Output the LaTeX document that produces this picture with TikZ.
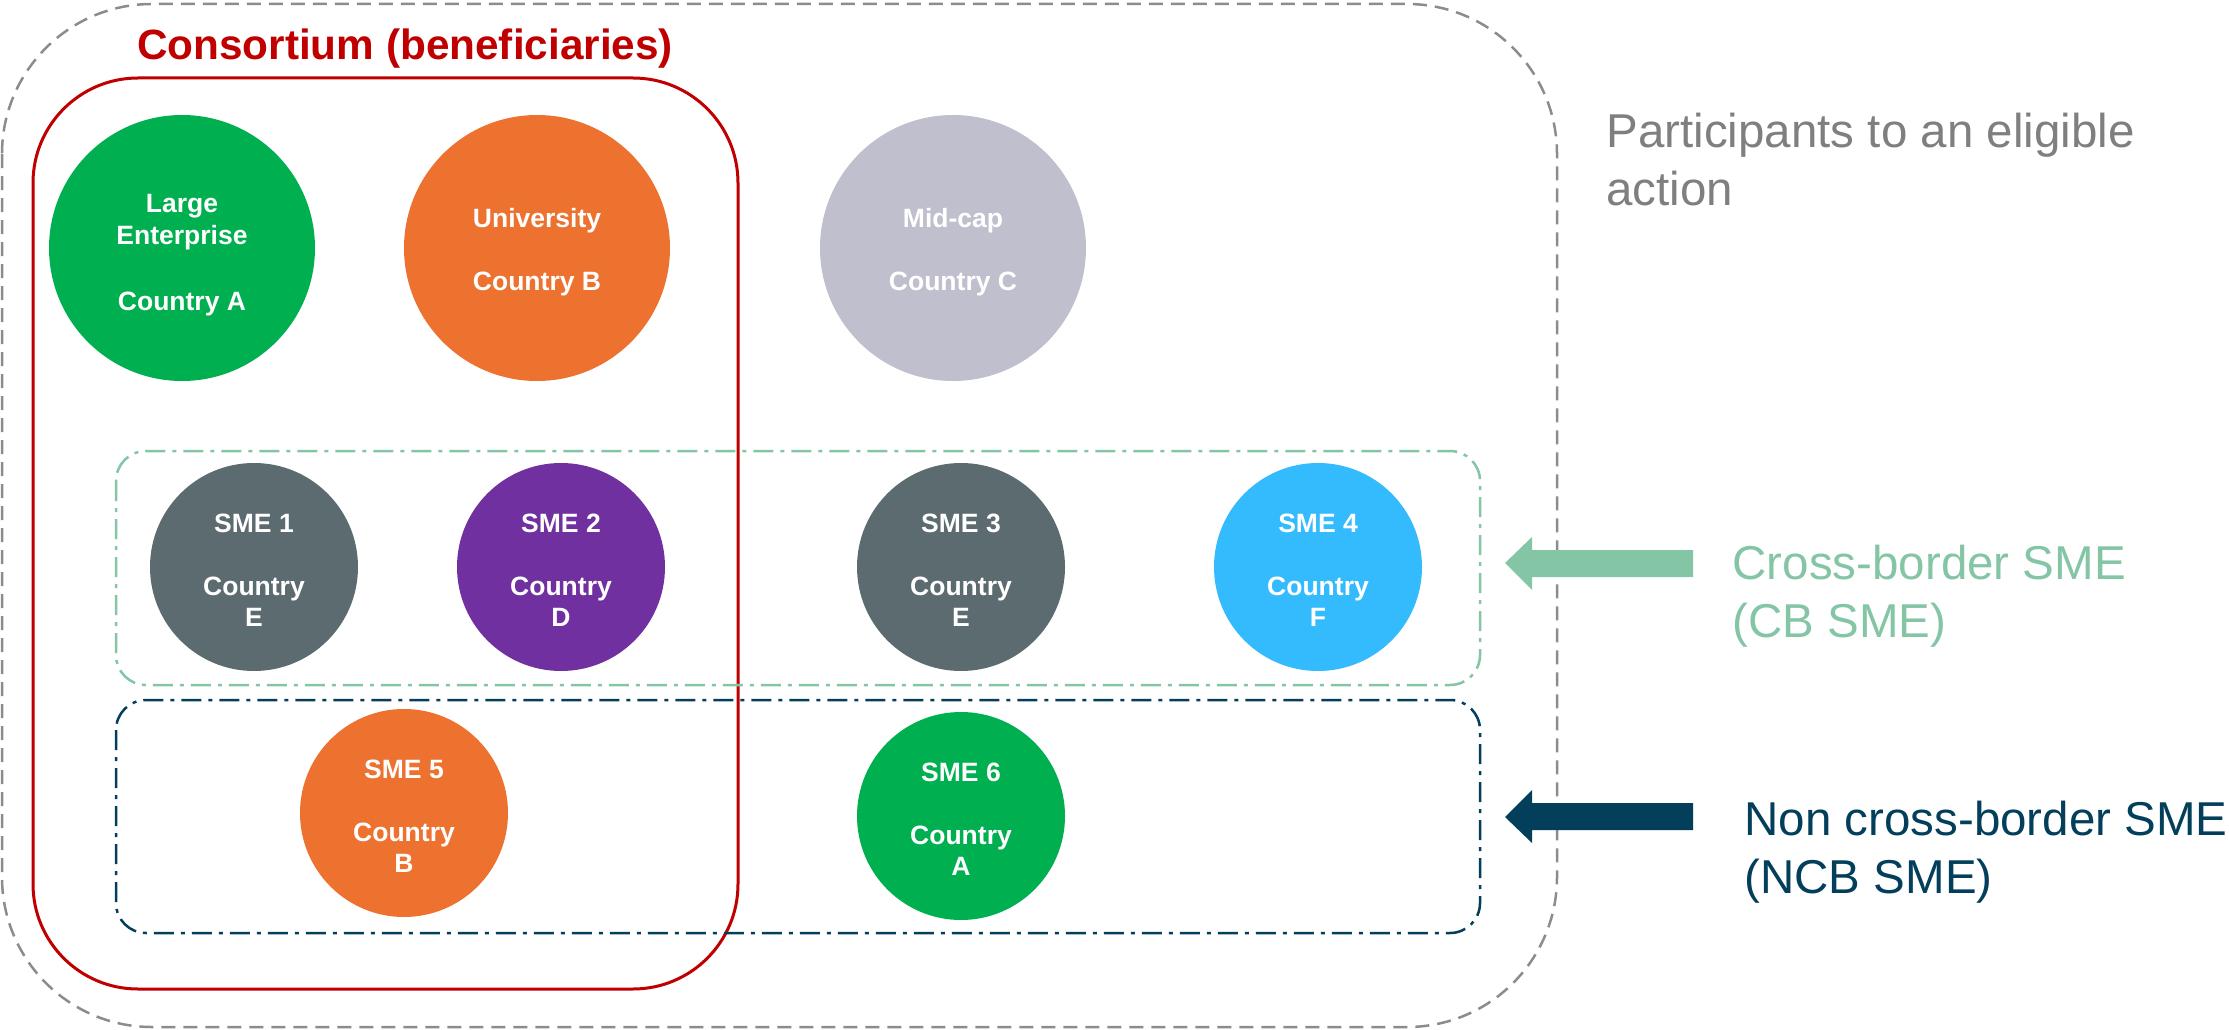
\documentclass[tikz,border=0pt]{standalone}
\usepackage{fontspec}
\setmainfont{Liberation Sans}
\definecolor{lgreen}{HTML}{00B050}
\definecolor{orng}{HTML}{ED7230}
\definecolor{midgray}{HTML}{C0BFCD}
\definecolor{slate}{HTML}{5B6B6F}
\definecolor{purp}{HTML}{7030A0}
\definecolor{skyb}{HTML}{33BBFD}
\definecolor{darkred}{HTML}{C00000}
\definecolor{cbgreen}{HTML}{84C5A5}
\definecolor{navy}{HTML}{033E5A}
\definecolor{txtgray}{HTML}{7F7F7F}
\definecolor{boxgray}{HTML}{8C8C8C}
\tikzset{
  org/.style={circle, inner sep=0pt, minimum size=266pt},
  sme/.style={org, minimum size=208pt},
  orgtxt/.style={text=white, align=center, inner sep=0pt,
    font=\bfseries\fontsize{26.5}{31.5}\selectfont},
  dashdot/.style={line width=2.5pt, dash pattern=on 20pt off 7pt on 4pt off 7pt, rounded corners=30pt},
  bigtxt/.style={align=left, anchor=base west, font=\fontsize{47.5}{58}\selectfont},
}
\begin{document}
\begin{tikzpicture}[x=1pt,y=-1pt]
\useasboundingbox (0,0) rectangle (2229,1030);
% outer dashed box
\draw[boxgray, line width=2.5pt, dash pattern=on 14pt off 8pt, rounded corners=150pt]
  (2,4) rectangle (1557,1027);
% consortium box
\draw[darkred, line width=3pt, rounded corners=105pt] (33,78) rectangle (738,989);
\node[darkred, font=\bfseries\fontsize{42.3}{50}\selectfont, anchor=base] (title) at (405,60) {Consortium (beneficiaries)};
% CB and NCB boxes
\draw[cbgreen, dashdot] (116,451) rectangle (1480,685);
\draw[navy, dashdot] (116,700) rectangle (1480,933);
% organisations
\node[org, fill=lgreen, label={[orgtxt, yshift=-7pt]center:{Large\\Enterprise\\\mbox{}\\[3pt]Country A}}] (le) at (182,248) {};
\node[org, fill=orng, label={[orgtxt, yshift=-4pt]center:{University\\\mbox{}\\Country B}}] (uni) at (537,248) {};
\node[org, fill=midgray, label={[orgtxt, yshift=-4pt]center:{Mid-cap\\\mbox{}\\Country C}}] (mid) at (953,248) {};
\node[sme, fill=slate, label={[orgtxt, yshift=-3pt]center:{SME 1\\\mbox{}\\Country\\E}}] (sme1) at (254,567) {};
\node[sme, fill=purp, label={[orgtxt, yshift=-3pt]center:{SME 2\\\mbox{}\\Country\\D}}] (sme2) at (561,567) {};
\node[sme, fill=slate, label={[orgtxt, yshift=-3pt]center:{SME 3\\\mbox{}\\Country\\E}}] (sme3) at (961,567) {};
\node[sme, fill=skyb, label={[orgtxt, yshift=-3pt]center:{SME 4\\\mbox{}\\Country\\F}}] (sme4) at (1318,567) {};
\node[sme, fill=orng, label={[orgtxt, yshift=-3pt]center:{SME 5\\\mbox{}\\Country\\B}}] (sme5) at (404,813) {};
\node[sme, fill=lgreen, label={[orgtxt, yshift=-3pt]center:{SME 6\\\mbox{}\\Country\\A}}] (sme6) at (961,816) {};
% labels
\node[bigtxt, text=txtgray] (part) at (1603,205) {Participants to an eligible\\action};
\node[bigtxt, text=cbgreen] (cb) at (1729,637) {Cross-border SME\\(CB SME)};
\node[bigtxt, text=navy] (ncb) at (1741,893) {Non cross-border SME\\(NCB SME)};
% arrows
\fill[cbgreen] (1505,563) -- (1532,537) -- (1532,550) -- (1693,550) -- (1693,577) -- (1532,577) -- (1532,590) -- cycle;
\fill[navy] (1505,817) -- (1532,790) -- (1532,803) -- (1693,803) -- (1693,830) -- (1532,830) -- (1532,843) -- cycle;
\end{tikzpicture}
\end{document}
